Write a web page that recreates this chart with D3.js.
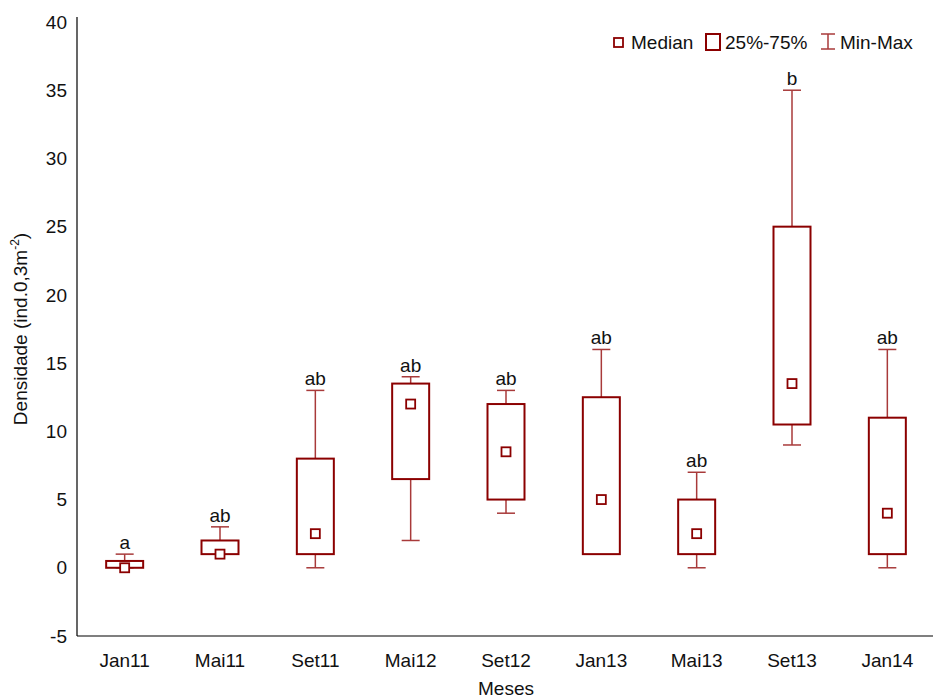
<!DOCTYPE html>
<html><head><meta charset="utf-8">
<script src="https://cdnjs.cloudflare.com/ajax/libs/d3/7.8.5/d3.min.js"></script>
<style>body{margin:0;background:#fff}svg{display:block}text{font-family:"Liberation Sans",Arial,sans-serif}</style>
</head><body>
<svg id="c" width="933" height="700"></svg>
<script>
const categories = ["Jan11","Mai11","Set11","Mai12","Set12","Jan13","Mai13","Set13","Jan14"];
const minVals    = [0, 1, 0, 2, 4, 1, 0, 9, 0];
const q1Vals     = [0, 1, 1, 6.5, 5, 1, 1, 10.5, 1];
const medianVals = [0, 1, 2.5, 12, 8.5, 5, 2.5, 13.5, 4];
const q3Vals     = [0.5, 2, 8, 13.5, 12, 12.5, 5, 25, 11];
const maxVals    = [1, 3, 13, 14, 13, 16, 7, 35, 16];
const letters    = ["a","ab","ab","ab","ab","ab","ab","b","ab"];
const yTicks     = [-5,0,5,10,15,20,25,30,35,40];

const svg = d3.select("#c");
const dark = "#8b0000", light = "#a83a3a";
const fs = 19;
const x = d3.scaleBand().domain(categories).range([77, 935]);
const y = d3.scaleLinear().domain([-5, 40]).range([636, 22]);

// axes
svg.append("line").attr("x1",77).attr("x2",77).attr("y1",17).attr("y2",636).attr("stroke","#000").attr("stroke-width",1.2);
svg.append("line").attr("x1",77).attr("x2",933).attr("y1",636).attr("y2",636).attr("stroke","#000").attr("stroke-width",1.2);
svg.selectAll(".yt").data(yTicks).enter().append("text")
  .attr("x",67).attr("y",d=>y(d)).attr("dy","0.35em").attr("text-anchor","end")
  .attr("font-size",fs).attr("fill","#111").text(d=>d);
svg.selectAll(".xt").data(categories).enter().append("text")
  .attr("x",d=>x(d)+x.bandwidth()/2).attr("y",667).attr("text-anchor","middle")
  .attr("font-size",fs).attr("fill","#111").text(d=>d);
svg.append("text").attr("x",506).attr("y",695).attr("text-anchor","middle").attr("font-size",fs).attr("fill","#111").text("Meses");
const yt = svg.append("text").attr("transform","translate(27,329) rotate(-90)").attr("text-anchor","middle").attr("font-size",19).attr("fill","#111");
yt.append("tspan").text("Densidade (ind.0,3m");
yt.append("tspan").attr("font-size",12).attr("dy",-8).text("-2");
yt.append("tspan").attr("dy",8).text(")");

const bw = 37, cw = 18, ms = 9;
const g = svg.selectAll(".bx").data(categories).enter().append("g");
const cx = d=>x(d)+x.bandwidth()/2;
// whiskers
g.append("line").attr("x1",cx).attr("x2",cx).attr("y1",(d,i)=>y(maxVals[i])).attr("y2",(d,i)=>y(q3Vals[i])).attr("stroke",light).attr("stroke-width",1.5);
g.append("line").attr("x1",cx).attr("x2",cx).attr("y1",(d,i)=>y(minVals[i])).attr("y2",(d,i)=>y(q1Vals[i])).attr("stroke",light).attr("stroke-width",1.5);
g.append("line").attr("x1",d=>cx(d)-cw/2).attr("x2",d=>cx(d)+cw/2).attr("y1",(d,i)=>y(maxVals[i])).attr("y2",(d,i)=>y(maxVals[i])).attr("stroke",light).attr("stroke-width",1.5);
g.append("line").attr("x1",d=>cx(d)-cw/2).attr("x2",d=>cx(d)+cw/2).attr("y1",(d,i)=>y(minVals[i])).attr("y2",(d,i)=>y(minVals[i])).attr("stroke",light).attr("stroke-width",1.5);
// boxes
g.append("rect").attr("x",d=>cx(d)-bw/2).attr("width",bw)
  .attr("y",(d,i)=>y(q3Vals[i])).attr("height",(d,i)=>y(q1Vals[i])-y(q3Vals[i]))
  .attr("fill","#fff").attr("stroke",dark).attr("stroke-width",2);
// medians
g.append("rect").attr("x",d=>cx(d)-ms/2).attr("width",ms).attr("y",(d,i)=>y(medianVals[i])-ms/2).attr("height",ms)
  .attr("fill","#fff").attr("stroke",dark).attr("stroke-width",1.8);
// letters
g.append("text").attr("x",cx).attr("y",(d,i)=>y(maxVals[i])-5).attr("text-anchor","middle")
  .attr("font-size",fs).attr("fill","#111").text((d,i)=>letters[i]);

// legend
const lg = svg.append("g");
lg.append("rect").attr("x",614).attr("y",38).attr("width",9).attr("height",9).attr("fill","#fff").attr("stroke",dark).attr("stroke-width",1.8);
lg.append("text").attr("x",631).attr("y",49).attr("font-size",fs).attr("fill","#111").text("Median");
lg.append("rect").attr("x",706).attr("y",34).attr("width",14).attr("height",16).attr("fill","#fff").attr("stroke",dark).attr("stroke-width",2);
lg.append("text").attr("x",725).attr("y",49).attr("font-size",fs).attr("fill","#111").text("25%-75%");
lg.append("line").attr("x1",828).attr("x2",828).attr("y1",34).attr("y2",49).attr("stroke",light).attr("stroke-width",1.5);
lg.append("line").attr("x1",821).attr("x2",835).attr("y1",34).attr("y2",34).attr("stroke",light).attr("stroke-width",1.5);
lg.append("line").attr("x1",821).attr("x2",835).attr("y1",49).attr("y2",49).attr("stroke",light).attr("stroke-width",1.5);
lg.append("text").attr("x",840).attr("y",49).attr("font-size",fs).attr("fill","#111").text("Min-Max");
</script>
</body></html>
